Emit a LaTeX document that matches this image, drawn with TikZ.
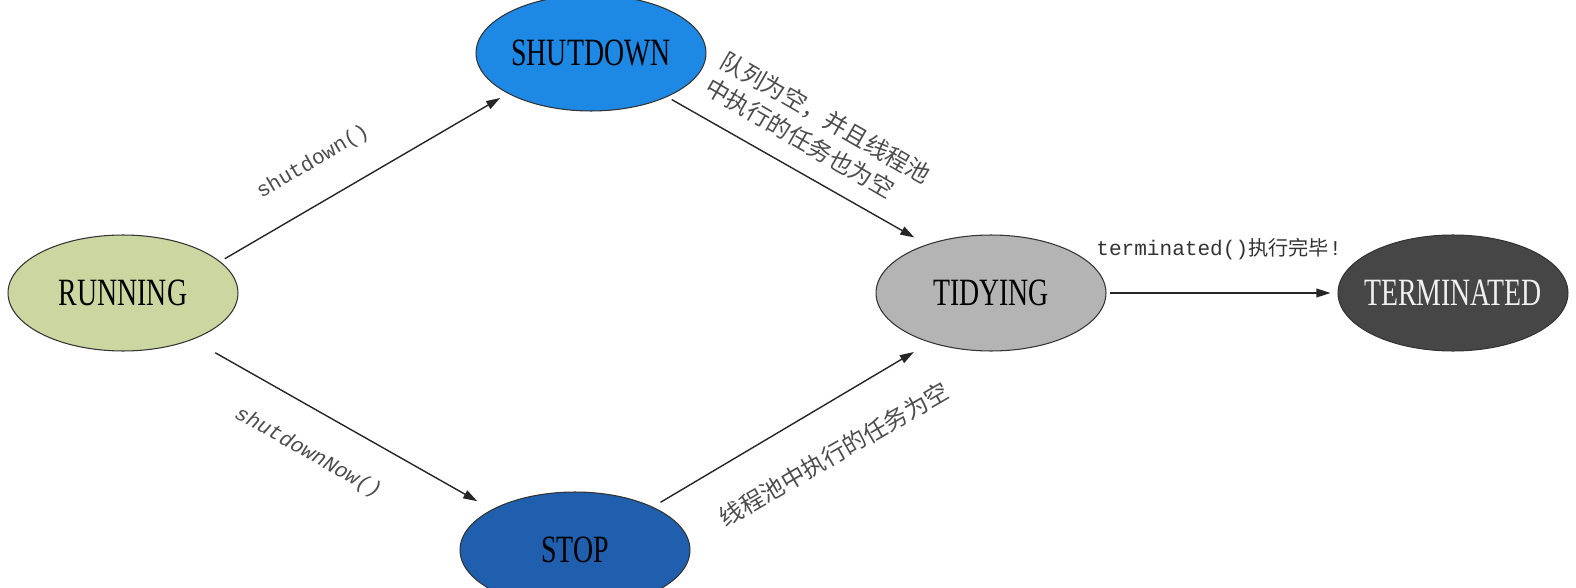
\documentclass[tikz,border=0pt]{standalone}
\usepackage{fontspec}
\setmainfont{Liberation Serif}
\setmonofont{Liberation Mono}
\newfontfamily\statefont[FakeStretch=0.72]{Liberation Serif}
\newfontfamily\cjk{Noto Sans CJK SC}
\usetikzlibrary{shapes.geometric,arrows.meta}

\definecolor{runC}{HTML}{CCD6A0}
\definecolor{shutC}{HTML}{1E88E5}
\definecolor{stopC}{HTML}{1F5FAE}
\definecolor{tidyC}{HTML}{B4B4B4}
\definecolor{termC}{HTML}{464646}

\tikzset{
  state/.style={ellipse, draw=black!80, line width=0.6pt, minimum width=4.6cm,
    minimum height=2.32cm, inner ysep=0pt, inner xsep=-0.6cm, font=\statefont\fontsize{22}{24}\selectfont},
  trans/.style={-{Triangle[length=8pt,width=5pt]}, line width=0.8pt, draw=black!85},
  lbl/.style={inner sep=0pt, text=black!70, font=\ttfamily\fontsize{12}{14}\selectfont},
  cjklbl/.style={inner sep=0pt, text=black!70, align=left, font=\cjk\fontsize{13.5}{17.6}\selectfont},
}

\begin{document}
\begin{tikzpicture}[x=0.02cm, y=-0.02cm]
\useasboundingbox (0,0) rectangle (1576,588);
% states
\node[state, fill=runC] (run) at (123,293) {RUNNING};
\node[state, fill=shutC] (shut) at (591,53) {SHUTDOWN};
\node[state, fill=stopC] (stop) at (575,550) {STOP};
\node[state, fill=tidyC] (tidy) at (991,293) {TIDYING};
\node[state, fill=termC, text=white!94!black] (term) at (1453,293) {TERMINATED};
% transitions
\draw[trans, shorten <=3pt, shorten >=5pt] (run.18) -- (shut.206);
\draw[trans, shorten <=15pt, shorten >=9.5pt] (run.-34) -- (stop.154);
\draw[trans, shorten <=3pt, shorten >=8pt] (shut.-30) -- (tidy.143);
\draw[trans, shorten <=5pt, shorten >=10.5pt] (stop.29) -- (tidy.219);
\draw[trans, shorten <=2pt, shorten >=4pt] (tidy.east) -- (term.west);
% labels
\node[lbl, rotate=30.5] (lshut) at (313,162) {shutdown()};
\node[lbl, rotate=-29.5, font=\ttfamily\itshape\fontsize{12}{14}\selectfont] (lnow) at (308,453) {shutdownNow()};
\node[cjklbl, rotate=-30] (lempty) at (818,131) {队列为空，并且线程池\\中执行的任务也为空};
\node[cjklbl, rotate=30] (lpool) at (834,454) {线程池中执行的任务为空};
\node[lbl, text=black!80] (lterm) at (1219,249) {terminated(){\cjk\fontsize{11.5}{14}\selectfont 执行完毕}!};
\end{tikzpicture}
\end{document}
